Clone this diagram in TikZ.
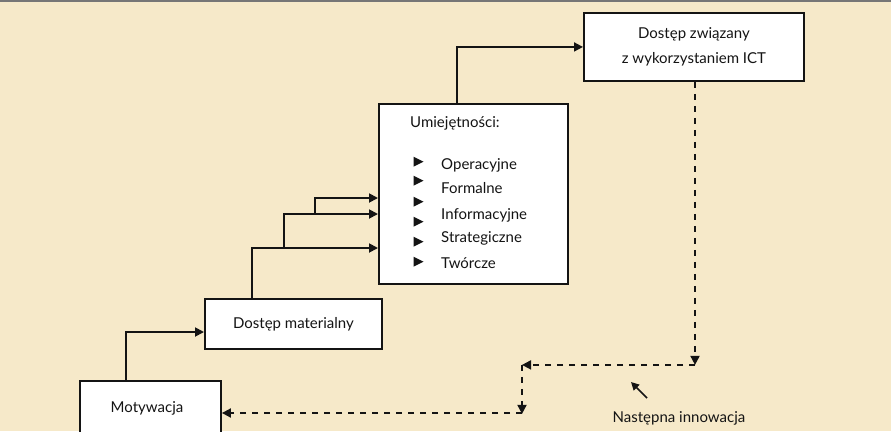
\documentclass[tikz,border=0pt]{standalone}
\usepackage{fontspec}
\setmainfont{Lato}
\usetikzlibrary{calc,arrows.meta}
\definecolor{paper}{RGB}{246,233,201}
\definecolor{rule}{RGB}{118,118,118}
\definecolor{ink}{RGB}{20,20,20}
\begin{document}
\begin{tikzpicture}[x=1pt,y=-1pt,
  box/.style={draw=ink,fill=white,line width=1.9pt,anchor=north west,inner sep=0pt,
    font=\fontsize{15}{25}\selectfont,text=ink},
  lbl/.style={font=\fontsize{15}{18}\selectfont,text=ink,inner sep=0pt},
  flow/.style={draw=ink,line width=1.8pt,-{Triangle[length=9pt,width=9pt]}},
  back/.style={draw=ink,line width=1.8pt,dash pattern=on 6pt off 6pt,-{Triangle[length=9pt,width=9pt]}},
  bullet/.style={fill=ink}]
  % page
  \fill[paper] (0,0) rectangle (891,431);
  \useasboundingbox (0,0) rectangle (891,431);
  \draw[rule,line width=2pt] (0,1) -- (891,1);

  % stages
  \node[box,minimum width=141pt,minimum height=56pt] (mot) at (79,380) {};
  \node[lbl] at ($(mot.north west)+(68,28)$) {Motywacja};
  \node[box,minimum width=177pt,minimum height=50pt] (mat) at (204,298) {Dostęp materialny};
  \node[box,minimum width=189pt,minimum height=180pt] (umi) at (378,103) {};
  \node[box,minimum width=220pt,minimum height=68pt,align=center] (ict) at (583,12)
    {Dostęp związany\\ z wykorzystaniem ICT};

  % skills list
  \node[lbl,anchor=base west] (head) at ($(umi.north west)+(32,24)$) {Umiejętności:};
  \foreach \y in {161.7,180.7,201.7,221.7,241.7,261.7}
    \fill[bullet] (413.5,\y-5) -- (423.5,\y) -- (413.5,\y+5) -- cycle;
  \node[lbl,anchor=base west] (s1) at (441,169) {Operacyjne};
  \node[lbl,anchor=base west] (s2) at (441,193.5) {Formalne};
  \node[lbl,anchor=base west] (s3) at (441,219.5) {Informacyjne};
  \node[lbl,anchor=base west] (s4) at (441,242) {Strategiczne};
  \node[lbl,anchor=base west] (s5) at (441,268.5) {Twórcze};

  % forward steps
  \coordinate (a0) at ($(mot.north west)+(47,0)$);
  \coordinate (a1) at ($(mat.north west)+(0,34)$);
  \draw[flow] (a0) |- (a1);
  \coordinate (b0) at ($(mat.north west)+(48,0)$);
  \coordinate (b1) at ($(umi.north west)+(0,145)$);
  \draw[flow] (b0) |- (b1);
  \coordinate (c0) at ($(mat.north west)+(80,-50)$);
  \coordinate (c1) at ($(umi.north west)+(0,111)$);
  \draw[flow] (c0) |- (c1);
  \coordinate (e0) at ($(mat.north west)+(111,-84)$);
  \coordinate (e1) at ($(umi.north west)+(0,95)$);
  \draw[flow] (e0) |- (e1);
  \coordinate (f0) at ($(umi.north west)+(79,0)$);
  \draw[flow] (f0) |- (ict.west);

  % feedback loop
  \coordinate (g0) at ($(ict.south west)+(112,0)$);
  \coordinate (g1) at ($(ict.south west)+(112,283)$);
  \coordinate (g2) at ($(ict.south west)+(-61,283)$);
  \coordinate (g3) at ($(ict.south west)+(-61,332)$);
  \coordinate (g4) at ($(mot.north east)+(0,33)$);
  \draw[back] (g0) -- (g1);
  \draw[back] (g1) -- (g2);
  \draw[back] (g2) -- (g3);
  \draw[back] (g3 |- g4) -- (g4);

  % annotation
  \node[lbl] (next) at (679,418) {Następna innowacja};
  \coordinate (p0) at (647,398);
  \coordinate (p1) at (631,382);
  \draw[draw=ink,line width=1.6pt,-{Triangle[length=8pt,width=8pt]}] (p0) -- (p1);
\end{tikzpicture}
\end{document}
